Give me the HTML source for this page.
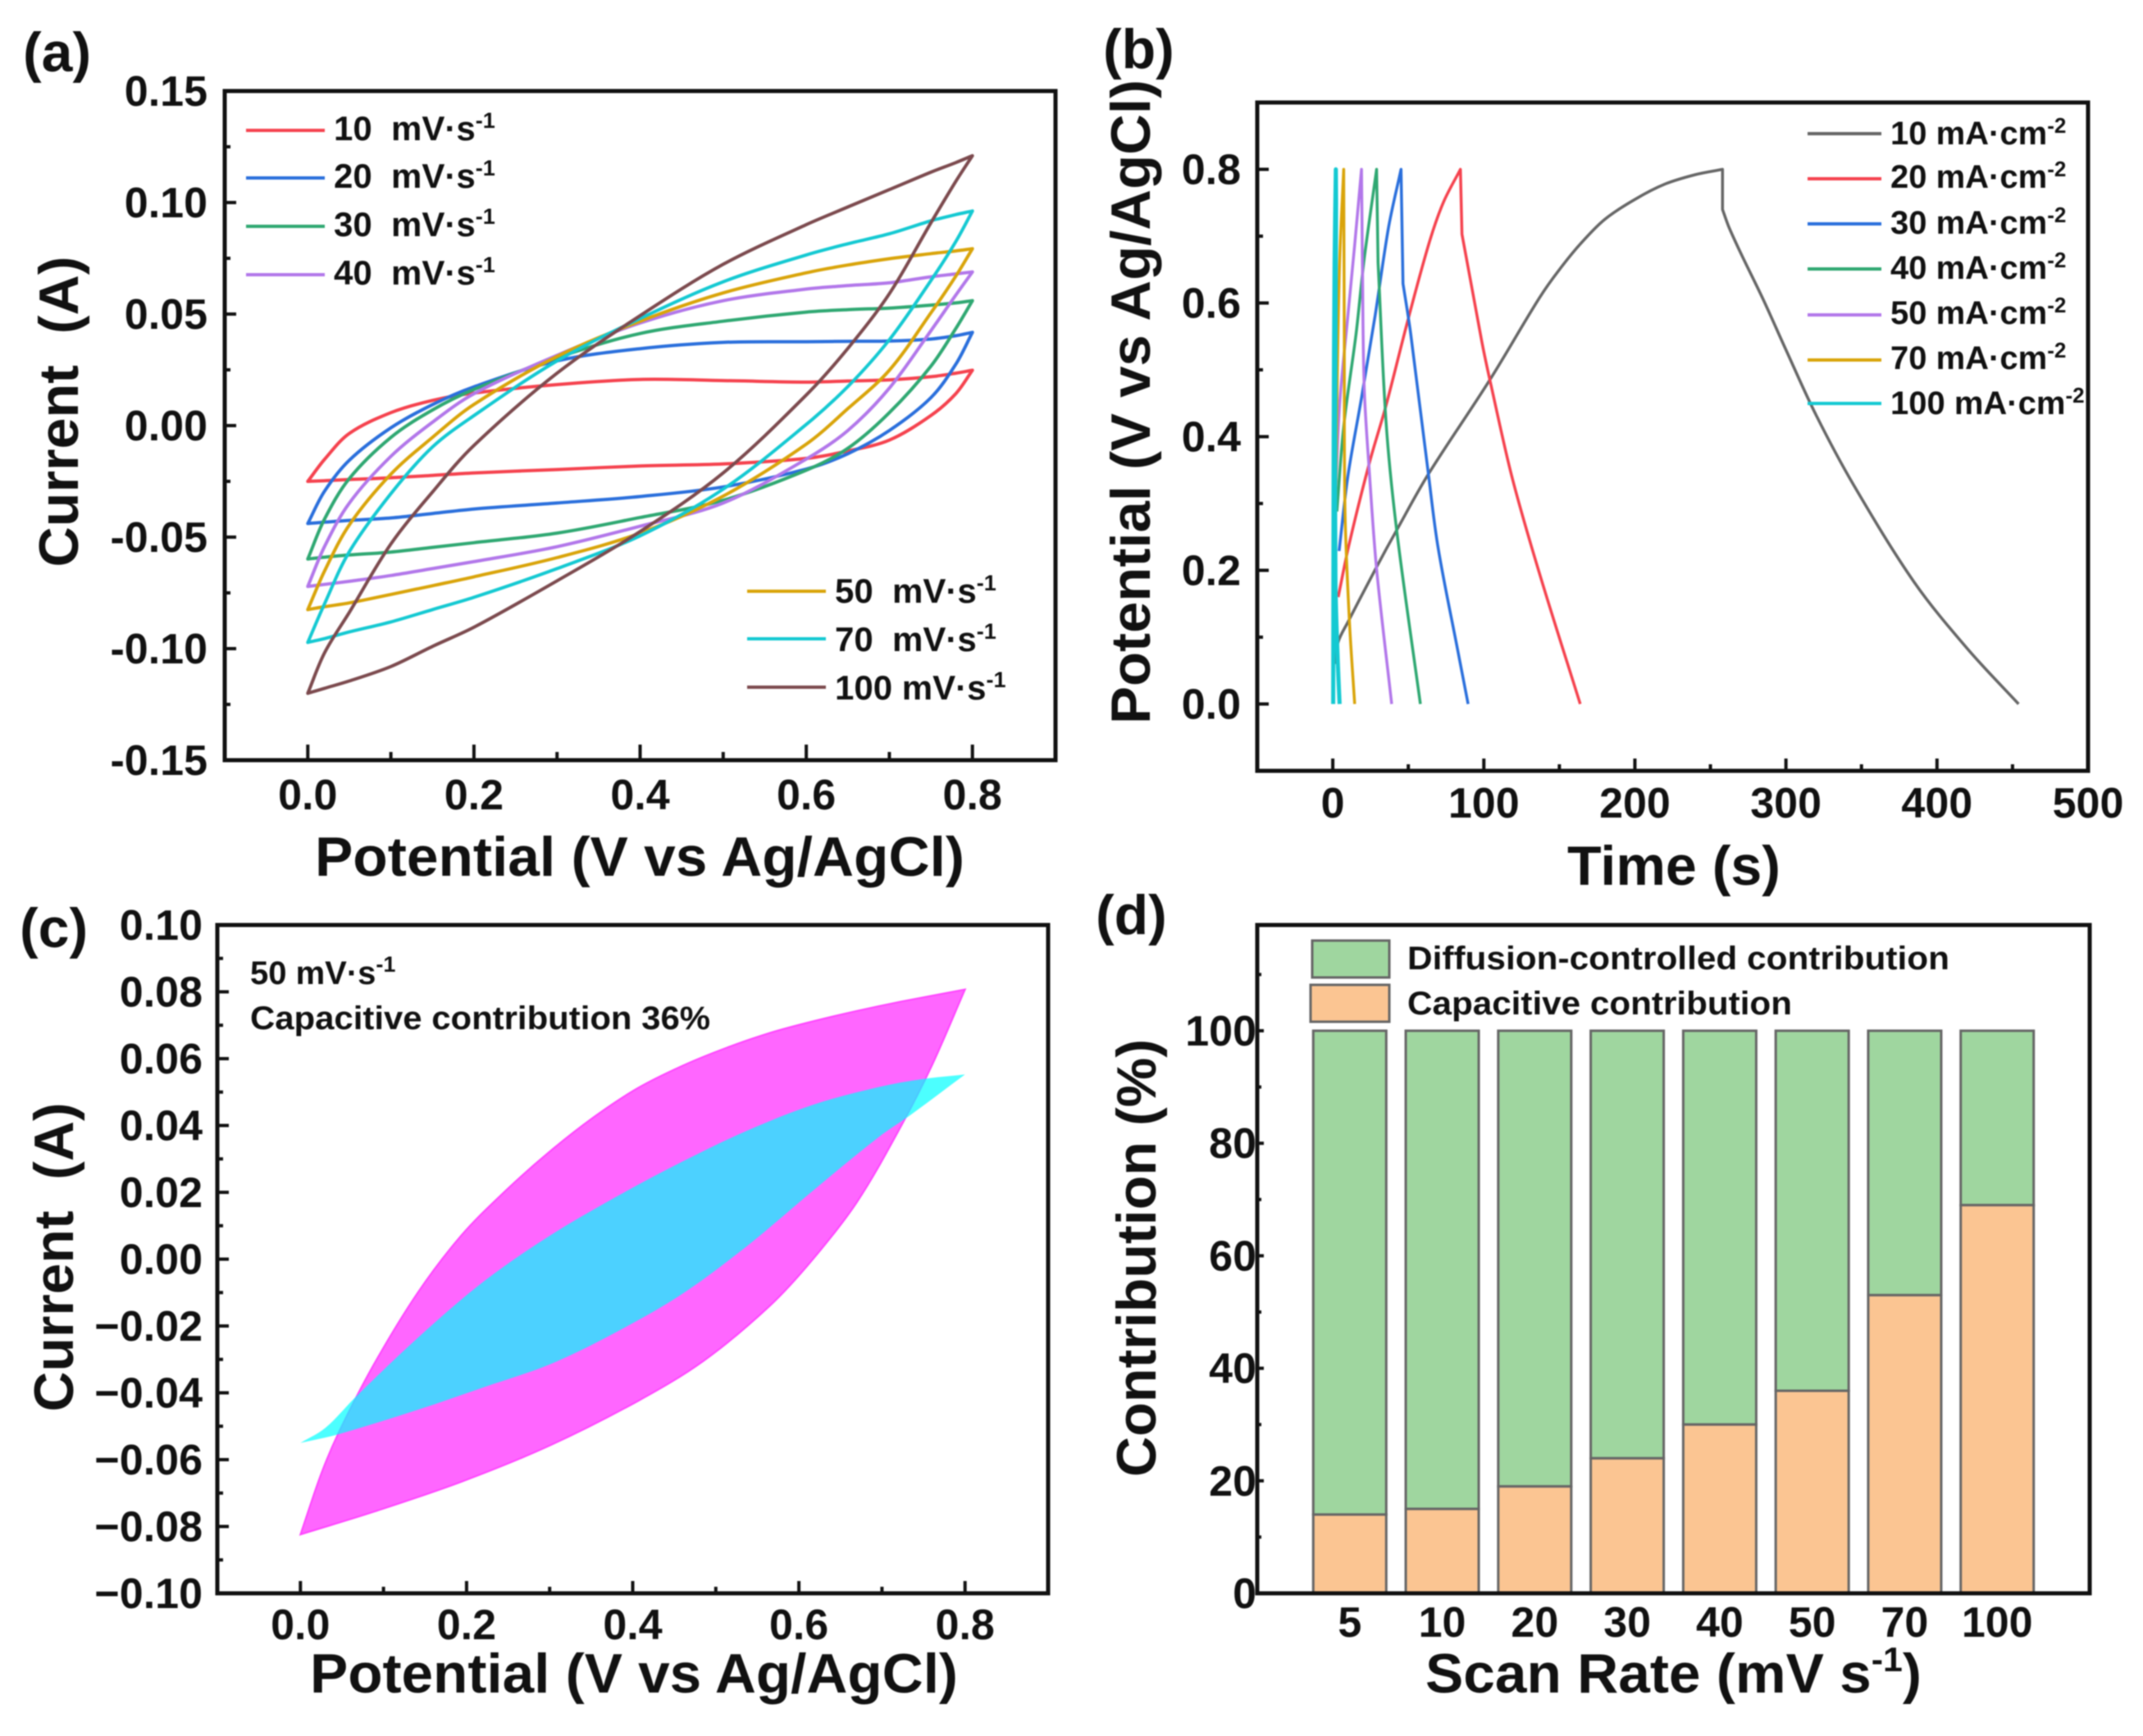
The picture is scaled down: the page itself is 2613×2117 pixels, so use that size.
<!DOCTYPE html>
<html lang="en">
<head>
<meta charset="utf-8">
<title>Electrochemical performance panels</title>
<style>
html,body{margin:0;padding:0;background:#fff;}
svg{display:block;filter:blur(0.8px);}
text{font-family:"Liberation Sans",Arial,sans-serif;font-weight:bold;fill:#111;white-space:pre;}
.tick{font-size:52px;}
.title{font-size:68px;}
.panel{font-size:68px;}
.leg{font-size:42px;}
.legb{font-size:40px;}
.note{font-size:40px;}
</style>
</head>
<body>
<svg id="figure" xmlns="http://www.w3.org/2000/svg" width="2613" height="2117" viewBox="0 0 2613 2117">
<rect width="2613" height="2117" fill="#fff"/>

<g id="panel-a">
<text class="panel" x="28" y="87">(a)</text>
<text class="title" x="780" y="1068" text-anchor="middle" textLength="792" lengthAdjust="spacingAndGlyphs">Potential (V vs Ag/AgCl)</text>
<text class="title" transform="translate(95,502) rotate(-90)" text-anchor="middle" textLength="379" lengthAdjust="spacingAndGlyphs">Current  (A)</text>
<g id="a-marks"></g>
<g>
<line x1="300" x2="396" y1="159" y2="159" stroke="#f5424e" stroke-width="4"/>
<text class="leg" x="407" y="171">10  mV·s<tspan dy="-15" font-size="27">-1</tspan></text>
<line x1="300" x2="396" y1="217" y2="217" stroke="#2a6fdc" stroke-width="4"/>
<text class="leg" x="407" y="229">20  mV·s<tspan dy="-15" font-size="27">-1</tspan></text>
<line x1="300" x2="396" y1="276" y2="276" stroke="#2fa872" stroke-width="4"/>
<text class="leg" x="407" y="288">30  mV·s<tspan dy="-15" font-size="27">-1</tspan></text>
<line x1="300" x2="396" y1="335" y2="335" stroke="#b277ea" stroke-width="4"/>
<text class="leg" x="407" y="347">40  mV·s<tspan dy="-15" font-size="27">-1</tspan></text>
</g>
<g>
<line x1="911" x2="1007" y1="721" y2="721" stroke="#d9a40a" stroke-width="4"/>
<text class="leg" x="1018" y="735">50  mV·s<tspan dy="-15" font-size="27">-1</tspan></text>
<line x1="911" x2="1007" y1="779" y2="779" stroke="#14c9d2" stroke-width="4"/>
<text class="leg" x="1018" y="794">70  mV·s<tspan dy="-15" font-size="27">-1</tspan></text>
<line x1="911" x2="1007" y1="838" y2="838" stroke="#7c4a4e" stroke-width="4"/>
<text class="leg" x="1018" y="853">100 mV·s<tspan dy="-15" font-size="27">-1</tspan></text>
</g>
</g>

<g id="panel-b">
<text class="title" transform="translate(1402,490) rotate(-90)" text-anchor="middle" textLength="786" lengthAdjust="spacingAndGlyphs">Potential (V vs Ag/AgCl)</text>
<text class="panel" x="1345" y="83">(b)</text>
<text class="title" x="2041" y="1079" text-anchor="middle" textLength="260" lengthAdjust="spacingAndGlyphs">Time (s)</text>
<g id="b-marks"></g>
<g>
<line x1="2204" x2="2294" y1="163" y2="163" stroke="#666" stroke-width="4"/>
<text class="legb" x="2305" y="176">10 mA·cm<tspan dy="-14" font-size="26">-2</tspan></text>
<line x1="2204" x2="2294" y1="218" y2="218" stroke="#f5424e" stroke-width="4"/>
<text class="legb" x="2305" y="229">20 mA·cm<tspan dy="-14" font-size="26">-2</tspan></text>
<line x1="2204" x2="2294" y1="273" y2="273" stroke="#2a6fdc" stroke-width="4"/>
<text class="legb" x="2305" y="285">30 mA·cm<tspan dy="-14" font-size="26">-2</tspan></text>
<line x1="2204" x2="2294" y1="328" y2="328" stroke="#2fa872" stroke-width="4"/>
<text class="legb" x="2305" y="340">40 mA·cm<tspan dy="-14" font-size="26">-2</tspan></text>
<line x1="2204" x2="2294" y1="384" y2="384" stroke="#b277ea" stroke-width="4"/>
<text class="legb" x="2305" y="395">50 mA·cm<tspan dy="-14" font-size="26">-2</tspan></text>
<line x1="2204" x2="2294" y1="439" y2="439" stroke="#d9a40a" stroke-width="4"/>
<text class="legb" x="2305" y="450">70 mA·cm<tspan dy="-14" font-size="26">-2</tspan></text>
<line x1="2204" x2="2294" y1="492" y2="492" stroke="#14c9d2" stroke-width="4"/>
<text class="legb" x="2305" y="505">100 mA·cm<tspan dy="-14" font-size="26">-2</tspan></text>
</g>
</g>

<g id="panel-c">
<text class="panel" x="24" y="1155">(c)</text>
<text class="title" x="773" y="2064" text-anchor="middle" textLength="790" lengthAdjust="spacingAndGlyphs">Potential (V vs Ag/AgCl)</text>
<text class="title" transform="translate(89,1533) rotate(-90)" text-anchor="middle" textLength="377" lengthAdjust="spacingAndGlyphs">Current  (A)</text>
<g id="c-marks"></g>
<text class="note" x="305" y="1200">50 mV·s<tspan dy="-15" font-size="27">-1</tspan></text>
<text class="note" x="305" y="1255" textLength="561" lengthAdjust="spacingAndGlyphs">Capacitive contribution 36%</text>
</g>

<g id="panel-d">
<text class="panel" x="1336" y="1139">(d)</text>
<text class="title" x="1738" y="2064" textLength="605" lengthAdjust="spacingAndGlyphs">Scan Rate (mV s<tspan dy="-26" font-size="42">-1</tspan><tspan dy="26">)</tspan></text>
<text class="title" transform="translate(1409,1534) rotate(-90)" text-anchor="middle" textLength="534" lengthAdjust="spacingAndGlyphs">Contribution (%)</text>
<g id="d-marks"></g>
<g>
<rect x="1600" y="1147" width="94" height="45" fill="#9fd69f" stroke="#666" stroke-width="3"/>
<text class="note" x="1716" y="1182" textLength="661" lengthAdjust="spacingAndGlyphs">Diffusion-controlled contribution</text>
<rect x="1598" y="1201" width="96" height="45" fill="#fbc592" stroke="#666" stroke-width="3"/>
<text class="note" x="1716" y="1237" textLength="469" lengthAdjust="spacingAndGlyphs">Capacitive contribution</text>
</g>
</g>
</svg>

<script>
// ---------- Panel (a) CV data ----------
const cvPotential = [0, 0.02, 0.05, 0.1, 0.15, 0.2, 0.3, 0.4, 0.5, 0.6, 0.65, 0.7, 0.75, 0.78, 0.8];
const cv10Upper  = [-0.025, -0.0152, -0.0035, 0.0058, 0.0113, 0.0146, 0.0184, 0.0207, 0.0202, 0.0195, 0.02, 0.0205, 0.0219, 0.0235, 0.0248];
const cv10Lower  = [-0.025, -0.0247, -0.0242, -0.0234, -0.0223, -0.0212, -0.0197, -0.0181, -0.0172, -0.0147, -0.0114, -0.0065, 0.0045, 0.0143, 0.0248];
const cv20Upper  = [-0.0439, -0.0295, -0.0155, -0.001, 0.0094, 0.0174, 0.029, 0.0345, 0.0373, 0.0376, 0.0378, 0.0379, 0.0388, 0.0403, 0.0418];
const cv20Lower  = [-0.0439, -0.0433, -0.0425, -0.0414, -0.0394, -0.0374, -0.0347, -0.0318, -0.0275, -0.0195, -0.0126, -0.0022, 0.0125, 0.0275, 0.0418];
const cv30Upper  = [-0.0598, -0.042, -0.0237, -0.0053, 0.007, 0.0162, 0.0304, 0.0413, 0.0468, 0.0509, 0.052, 0.0527, 0.054, 0.055, 0.056];
const cv30Lower  = [-0.0598, -0.059, -0.058, -0.0567, -0.0546, -0.0525, -0.0482, -0.0412, -0.0335, -0.02, -0.0102, 0.0058, 0.0266, 0.0435, 0.056];
const cv40Upper  = [-0.0721, -0.0543, -0.0347, -0.0138, 0.0015, 0.0143, 0.0315, 0.046, 0.056, 0.0612, 0.0628, 0.064, 0.0667, 0.068, 0.0689];
const cv40Lower  = [-0.0721, -0.0712, -0.0698, -0.0672, -0.0641, -0.061, -0.0543, -0.0451, -0.0347, -0.015, -0.0022, 0.0168, 0.0425, 0.0585, 0.0689];
const cv50Upper  = [-0.0825, -0.0653, -0.0445, -0.0218, -0.0053, 0.0095, 0.031, 0.0468, 0.0595, 0.0685, 0.072, 0.0748, 0.0771, 0.0783, 0.0793];
const cv50Lower  = [-0.0825, -0.0812, -0.0795, -0.0757, -0.0718, -0.0678, -0.0592, -0.0482, -0.0316, -0.0083, 0.0076, 0.0248, 0.0505, 0.067, 0.0793];
const cv70Upper  = [-0.0972, -0.08, -0.0565, -0.0305, -0.0096, 0.0045, 0.029, 0.048, 0.0645, 0.0765, 0.0815, 0.086, 0.0918, 0.0946, 0.0962];
const cv70Lower  = [-0.0972, -0.0955, -0.0925, -0.088, -0.0825, -0.077, -0.0641, -0.0494, -0.0285, 0.0005, 0.0175, 0.0385, 0.065, 0.0825, 0.0962];
const cv100Upper = [-0.12, -0.102, -0.0837, -0.0531, -0.0298, -0.0089, 0.0235, 0.0493, 0.0723, 0.0901, 0.098, 0.1058, 0.1136, 0.1179, 0.121];
const cv100Lower = [-0.12, -0.1178, -0.1145, -0.108, -0.099, -0.0904, -0.0696, -0.0475, -0.0212, 0.0137, 0.0346, 0.0591, 0.0909, 0.1095, 0.121];
const cvRates = ['10', '20', '30', '40', '50', '70', '100'];
const cvUpperSeries = [cv10Upper, cv20Upper, cv30Upper, cv40Upper, cv50Upper, cv70Upper, cv100Upper];
const cvLowerSeries = [cv10Lower, cv20Lower, cv30Lower, cv40Lower, cv50Lower, cv70Lower, cv100Lower];
const cvColors = ['#f5424e', '#2a6fdc', '#2fa872', '#b277ea', '#d9a40a', '#14c9d2', '#7c4a4e'];
const aXTicks = [0, 0.2, 0.4, 0.6, 0.8];
const aXLabels = ['0.0', '0.2', '0.4', '0.6', '0.8'];
const aXMinor = [0.1, 0.3, 0.5, 0.7];
const aYTicks = [0.15, 0.1, 0.05, 0, -0.05, -0.1, -0.15];
const aYLabels = ['0.15', '0.10', '0.05', '0.00', '-0.05', '-0.10', '-0.15'];
const aYMinor = [0.125, 0.075, 0.025, -0.025, -0.075, -0.125];

// ---------- Panel (b) GCD data ----------
const gcd10ChargeT = [1.5, 3.6, 10, 29, 42.5, 63.3, 104, 136.6, 150, 164.5, 180, 200, 220, 240, 258];
const gcd10ChargeV = [0.06, 0.093, 0.1225, 0.205, 0.261, 0.344, 0.485, 0.607, 0.65, 0.69, 0.725, 0.755, 0.778, 0.792, 0.8];
const gcd10DischargeT = [258, 262, 270, 285, 300, 320, 345, 385, 420, 454];
const gcd10DischargeV = [0.74, 0.715, 0.675, 0.605, 0.53, 0.432, 0.327, 0.182, 0.083, 0];
const gcd20ChargeT = [3.6, 10.9, 24.4, 35.3, 49.8, 64.2, 73.3, 84.5];
const gcd20ChargeV = [0.16, 0.24, 0.362, 0.447, 0.575, 0.693, 0.751, 0.8];
const gcd20DischargeT = [85.5, 98.6, 104, 118.5, 136.6, 163.8];
const gcd20DischargeV = [0.703, 0.543, 0.485, 0.341, 0.197, 0];
const gcd30ChargeT = [4.2, 10, 19, 28, 37, 45.2];
const gcd30ChargeV = [0.229, 0.341, 0.458, 0.581, 0.714, 0.8];
const gcd30DischargeT = [46.5, 51.6, 63.3, 69.7, 82.3, 89.6];
const gcd30DischargeV = [0.629, 0.554, 0.344, 0.234, 0.085, 0];
const gcd40ChargeT = [2.7, 7.2, 15.4, 20.8, 29];
const gcd40ChargeV = [0.288, 0.415, 0.554, 0.666, 0.8];
const gcd40DischargeT = [30, 35.3, 42.5, 58];
const gcd40DischargeV = [0.66, 0.421, 0.256, 0];
const gcd50ChargeT = [1.8, 4.5, 10, 14.5, 19];
const gcd50ChargeV = [0.314, 0.448, 0.581, 0.687, 0.8];
const gcd50DischargeT = [19.6, 20.8, 24.4, 29, 39];
const gcd50DischargeV = [0.66, 0.474, 0.341, 0.202, 0];
const gcd70ChargeT = [1.5, 2.7, 4.5, 7.2];
const gcd70ChargeV = [0.2, 0.448, 0.66, 0.8];
const gcd70DischargeT = [7.6, 8.1, 10.9, 14.5];
const gcd70DischargeV = [0.554, 0.288, 0.128, 0];
const gcd100ChargeT = [0.3, 0.6, 1.2, 2];
const gcd100ChargeV = [0, 0.4, 0.66, 0.8];
const gcd100DischargeT = [2.2, 1.6, 1.8, 3.2, 4.5];
const gcd100DischargeV = [0.75, 0.4, 0.18, 0.07, 0];
const gcdRates = ['10', '20', '30', '40', '50', '70', '100'];
const gcdChargeT = [gcd10ChargeT, gcd20ChargeT, gcd30ChargeT, gcd40ChargeT, gcd50ChargeT, gcd70ChargeT, gcd100ChargeT];
const gcdChargeV = [gcd10ChargeV, gcd20ChargeV, gcd30ChargeV, gcd40ChargeV, gcd50ChargeV, gcd70ChargeV, gcd100ChargeV];
const gcdDischargeT = [gcd10DischargeT, gcd20DischargeT, gcd30DischargeT, gcd40DischargeT, gcd50DischargeT, gcd70DischargeT, gcd100DischargeT];
const gcdDischargeV = [gcd10DischargeV, gcd20DischargeV, gcd30DischargeV, gcd40DischargeV, gcd50DischargeV, gcd70DischargeV, gcd100DischargeV];
const gcdColors = ['#666666', '#f5424e', '#2a6fdc', '#2fa872', '#b277ea', '#d9a40a', '#14c9d2'];
const bXTicks = [0, 100, 200, 300, 400, 500];
const bXLabels = ['0', '100', '200', '300', '400', '500'];
const bXMinor = [50, 150, 250, 350, 450];
const bYTicks = [0.8, 0.6, 0.4, 0.2, 0];
const bYLabels = ['0.8', '0.6', '0.4', '0.2', '0.0'];
const bYMinor = [0.7, 0.5, 0.3, 0.1];

// ---------- Panel (c) data ----------
const totalUpperX = [0, 0.0249, 0.046, 0.0884, 0.1413, 0.194, 0.247, 0.3, 0.353, 0.406, 0.459, 0.512, 0.565, 0.617, 0.67, 0.723, 0.8];
const totalUpperY = [-0.0824, -0.0643, -0.0519, -0.0315, -0.01, 0.0072, 0.0205, 0.0322, 0.0425, 0.0512, 0.0578, 0.0632, 0.0677, 0.0712, 0.0743, 0.0771, 0.0807];
const totalLowerX = [0, 0.0884, 0.194, 0.3, 0.406, 0.485, 0.565, 0.617, 0.67, 0.723, 0.76, 0.8];
const totalLowerY = [-0.0824, -0.0756, -0.0666, -0.0558, -0.0425, -0.0305, -0.014, 0, 0.0171, 0.0398, 0.0579, 0.0807];
const capUpperX = [0, 0.03, 0.067, 0.141, 0.221, 0.3, 0.379, 0.459, 0.538, 0.617, 0.696, 0.749, 0.8];
const capUpperY = [-0.055, -0.0505, -0.0411, -0.0236, -0.0066, 0.007, 0.0185, 0.0291, 0.0385, 0.0462, 0.0515, 0.0539, 0.0553];
const capLowerX = [0, 0.046, 0.141, 0.221, 0.3, 0.379, 0.459, 0.538, 0.617, 0.696, 0.737, 0.8];
const capLowerY = [-0.055, -0.0524, -0.0451, -0.0383, -0.0315, -0.022, -0.0105, 0.004, 0.0205, 0.0365, 0.0436, 0.0553];
const cXTicks = [0, 0.2, 0.4, 0.6, 0.8];
const cXLabels = ['0.0', '0.2', '0.4', '0.6', '0.8'];
const cXMinor = [0.1, 0.3, 0.5, 0.7];
const cYTicks = [0.1, 0.08, 0.06, 0.04, 0.02, 0, -0.02, -0.04, -0.06, -0.08, -0.1];
const cYLabels = ['0.10', '0.08', '0.06', '0.04', '0.02', '0.00', '\u22120.02', '\u22120.04', '\u22120.06', '\u22120.08', '\u22120.10'];
const cYMinor = [0.09, 0.07, 0.05, 0.03, 0.01, -0.01, -0.03, -0.05, -0.07, -0.09];

// ---------- Panel (d) data ----------
const scanRates = ['5', '10', '20', '30', '40', '50', '70', '100'];
const capacitive = [14, 15, 19, 24, 30, 36, 53, 69];
const diffusion = [86, 85, 81, 76, 70, 64, 47, 31];
const dYTicks = [100, 80, 60, 40, 20, 0];
const dYLabels = ['100', '80', '60', '40', '20', '0'];
const dYMinor = [110, 90, 70, 50, 30, 10];

// ---------- helpers ----------
const SVGNS = 'http://www.w3.org/2000/svg';
function axisScale(domain, range) {
  return function (v) {
    return range[0] + (v - domain[0]) / (domain[1] - domain[0]) * (range[1] - range[0]);
  };
}
function make(tag, parent, attrs) {
  const el = document.createElementNS(SVGNS, tag);
  for (const k in attrs) { el.setAttribute(k, attrs[k]); }
  parent.appendChild(el);
  return el;
}
function chord(a, b) {
  return Math.hypot(b[0] - a[0], b[1] - a[1]) || 0.001;
}
function tangent(points, i) {
  const n = points.length;
  const a = points[Math.max(i - 1, 0)], b = points[Math.min(i + 1, n - 1)];
  const len = chord(a, b);
  return [(b[0] - a[0]) / len, (b[1] - a[1]) / len];
}
function smooth(points, move) {
  let d = (move ? 'M' : 'L') + points[0][0].toFixed(1) + ' ' + points[0][1].toFixed(1);
  for (let i = 0; i < points.length - 1; i++) {
    const p1 = points[i], p2 = points[i + 1];
    const len = chord(p1, p2) / 3;
    const t1 = tangent(points, i), t2 = tangent(points, i + 1);
    d += 'C' + (p1[0] + t1[0] * len).toFixed(1) + ' ' + (p1[1] + t1[1] * len).toFixed(1) + ' ' +
         (p2[0] - t2[0] * len).toFixed(1) + ' ' + (p2[1] - t2[1] * len).toFixed(1) + ' ' +
         p2[0].toFixed(1) + ' ' + p2[1].toFixed(1);
  }
  return d;
}
function zipPoints(xs, ys, sx, sy) {
  return xs.map(function (x, i) { return [sx(x), sy(ys[i])]; });
}
function drawAxes(root, box, sx, sy, xTicks, xLabels, xMinor, yTicks, yLabels, yMinor, xBase, yRight, majorX, minorX, majorY, minorY) {
  let el;
  el = make('rect', root, { x: box.l, y: box.t, width: box.r - box.l, height: box.b - box.t, fill: 'none', stroke: '#111', 'stroke-width': 5 });
  
  
  xTicks.forEach(function (v, i) {
    if (majorX > 0) {
      el = make('line', root, { x1: sx(v), x2: sx(v), y1: box.b, y2: box.b - majorX, stroke: '#111', 'stroke-width': 4 });
      
      
    }
    el = make('text', root, { x: sx(v), y: xBase, 'text-anchor': 'middle', class: 'tick' });
    el.textContent = xLabels[i];
    
    
  });
  xMinor.forEach(function (v) {
    el = make('line', root, { x1: sx(v), x2: sx(v), y1: box.b, y2: box.b - minorX, stroke: '#111', 'stroke-width': 4 });
    
    
  });
  yTicks.forEach(function (v, i) {
    el = make('line', root, { x1: box.l, x2: box.l + majorY, y1: sy(v), y2: sy(v), stroke: '#111', 'stroke-width': 4 });
    
    
    el = make('text', root, { x: yRight, y: sy(v) + 18, 'text-anchor': 'end', class: 'tick' });
    el.textContent = yLabels[i];
    
    
  });
  yMinor.forEach(function (v) {
    el = make('line', root, { x1: box.l, x2: box.l + minorY, y1: sy(v), y2: sy(v), stroke: '#111', 'stroke-width': 4 });
    
    
  });
}

// ---------- Panel (a) ----------
(function () {
  const root = document.getElementById('a-marks');
  const box = { l: 274, r: 1287, t: 111, b: 927 };
  const sx = axisScale([-0.1, 0.9], [box.l, box.r]);
  const sy = axisScale([-0.15, 0.15], [box.b, box.t]);
  cvRates.forEach(function (rate, i) {
    const up = zipPoints(cvPotential, cvUpperSeries[i], sx, sy);
    const low = zipPoints(cvPotential, cvLowerSeries[i], sx, sy).reverse();
    const el = make('path', root, { d: smooth(up, true) + smooth(low, false) + 'Z', fill: 'none', stroke: cvColors[i], 'stroke-width': 4, 'stroke-linejoin': 'round' });
    
    
  });
  drawAxes(root, box, sx, sy, aXTicks, aXLabels, aXMinor, aYTicks, aYLabels, aYMinor, 987, 253, 19, 10, 14, 7);
})();

// ---------- Panel (b) ----------
(function () {
  const root = document.getElementById('b-marks');
  const box = { l: 1533, r: 2546, t: 125, b: 940 };
  const sx = axisScale([-50, 500], [box.l, box.r]);
  const sy = axisScale([-0.1, 0.9], [box.b, box.t]);
  gcdRates.forEach(function (rate, i) {
    const charge = zipPoints(gcdChargeT[i], gcdChargeV[i], sx, sy);
    const discharge = zipPoints(gcdDischargeT[i], gcdDischargeV[i], sx, sy);
    const el = make('path', root, { d: smooth(charge, true) + smooth(discharge, false), fill: 'none', stroke: gcdColors[i], 'stroke-width': i === 6 ? 5 : 3.5, 'stroke-linejoin': 'round' });
    
    
  });
  drawAxes(root, box, sx, sy, bXTicks, bXLabels, bXMinor, bYTicks, bYLabels, bYMinor, 997, 1513, 15, 8, 14, 7);
})();

// ---------- Panel (c) ----------
(function () {
  const root = document.getElementById('c-marks');
  const box = { l: 265, r: 1278, t: 1128, b: 1943 };
  const sx = axisScale([-0.1, 0.9], [box.l, box.r]);
  const sy = axisScale([-0.1, 0.1], [box.b, box.t]);
  let el;
  const tu = zipPoints(totalUpperX, totalUpperY, sx, sy);
  const tl = zipPoints(totalLowerX, totalLowerY, sx, sy).reverse();
  el = make('path', root, { d: smooth(tu, true) + smooth(tl, false) + 'Z', fill: '#ff66ff', stroke: '#ff44ff', 'stroke-width': 2 });
  
  
  const cu = zipPoints(capUpperX, capUpperY, sx, sy);
  const cl = zipPoints(capLowerX, capLowerY, sx, sy).reverse();
  el = make('path', root, { d: smooth(cu, true) + smooth(cl, false) + 'Z', fill: '#00ffff', 'fill-opacity': 0.7, stroke: 'none' });
  
  
  drawAxes(root, box, sx, sy, cXTicks, cXLabels, cXMinor, cYTicks, cYLabels, cYMinor, 1999, 247, 15, 8, 14, 7);
})();

// ---------- Panel (d) ----------
(function () {
  const root = document.getElementById('d-marks');
  const box = { l: 1533, r: 2548, t: 1128, b: 1943 };
  const sx = axisScale([0, 9], [box.l, box.r]);
  const sy = axisScale([0, 118.8], [box.b, box.t]);
  const barWidth = 89;
  let el;
  scanRates.forEach(function (rate, i) {
    const cx = sx(i + 1);
    el = make('rect', root, { x: cx - barWidth / 2, y: sy(capacitive[i] + diffusion[i]), width: barWidth, height: sy(capacitive[i]) - sy(capacitive[i] + diffusion[i]), fill: '#9fd69f', stroke: '#666', 'stroke-width': 3 });
    
    
    el = make('rect', root, { x: cx - barWidth / 2, y: sy(capacitive[i]), width: barWidth, height: sy(0) - sy(capacitive[i]), fill: '#fbc592', stroke: '#666', 'stroke-width': 3 });
    
    
  });
  const xPos = scanRates.map(function (_, i) { return i + 1; });
  drawAxes(root, box, sx, sy, xPos, scanRates, [], dYTicks, dYLabels, dYMinor, 1996, 1532, 0, 0, 8, 5);
})();
</script>
</body>
</html>
